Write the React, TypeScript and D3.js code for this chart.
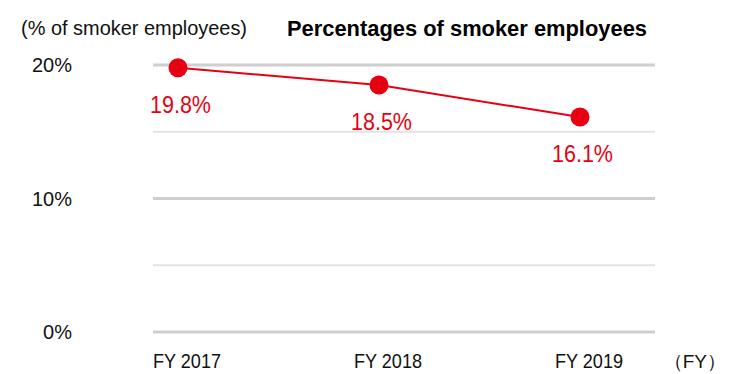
import React from "react";
import * as d3 from "d3";

const categories = ["FY 2017", "FY 2018", "FY 2019"];
const smokerRates = [19.8, 18.5, 16.1];
const valueLabels = ["19.8%", "18.5%", "16.1%"];
const majorTicks = [0, 10, 20];
const majorTickLabels = ["0%", "10%", "20%"];
const minorTicks = [5, 15];

const W = 738;
const H = 374;
const RED = "#e60012";
const FONT = "'Liberation Sans', Arial, Helvetica, sans-serif";

export default function App() {
  const x = d3.scalePoint<string>().domain(categories).range([178, 580]);
  const y = d3.scaleLinear().domain([0, 20]).range([332, 65]);
  const gridX0 = 153;
  const gridX1 = 655;

  const line = d3
    .line<number>()
    .x((_, i) => x(categories[i]) as number)
    .y((d) => y(d));

  return (
    <svg
      width={W}
      height={H}
      viewBox={`0 0 ${W} ${H}`}
      style={{ position: "absolute", left: 0, top: 0, display: "block", background: "#fff" }}
      fontFamily={FONT}
    >
      <rect x={0} y={0} width={W} height={H} fill="#fff" />
      {/* header texts */}
      <text x={21} y={35} fontSize={20.5} fill="#111" textLength={226} lengthAdjust="spacingAndGlyphs">
        (% of smoker employees)
      </text>
      <text x={287} y={36} fontSize={22} fontWeight="bold" fill="#000" textLength={360} lengthAdjust="spacingAndGlyphs">
        Percentages of smoker employees
      </text>

      {/* minor gridlines */}
      {minorTicks.map((t) => (
        <line key={"mn" + t} x1={gridX0} x2={gridX1} y1={y(t)} y2={y(t)} stroke="#e3e3e3" strokeWidth={2} />
      ))}
      {/* major gridlines */}
      {majorTicks.map((t, i) => (
        <g key={"mj" + t}>
          <line x1={gridX0} x2={gridX1} y1={y(t)} y2={y(t)} stroke="#cfcfcf" strokeWidth={3} />
          <text x={72} y={y(t) + 7} fontSize={20} textAnchor="end" fill="#111">
            {majorTickLabels[i]}
          </text>
        </g>
      ))}

      {/* x labels */}
      {categories.map((c) => (
        <text
          key={c}
          x={(x(c) as number) - 25}
          y={368}
          fontSize={20.5}
          fill="#111"
          textLength={68}
          lengthAdjust="spacingAndGlyphs"
        >
          {c}
        </text>
      ))}
      <text x={726} y={368} fontSize={19} textAnchor="end" fill="#111">
        （FY）
      </text>

      {/* series */}
      <path d={line(smokerRates) || ""} fill="none" stroke={RED} strokeWidth={2} />
      {smokerRates.map((v, i) => (
        <circle key={"c" + i} cx={x(categories[i]) as number} cy={y(v)} r={9.5} fill={RED} />
      ))}
      {smokerRates.map((v, i) => (
        <text
          key={"l" + i}
          x={(x(categories[i]) as number) - 28}
          y={y(v) + 45}
          fontSize={23.5}
          fill={RED}
          textLength={61}
          lengthAdjust="spacingAndGlyphs"
        >
          {valueLabels[i]}
        </text>
      ))}
    </svg>
  );
}
